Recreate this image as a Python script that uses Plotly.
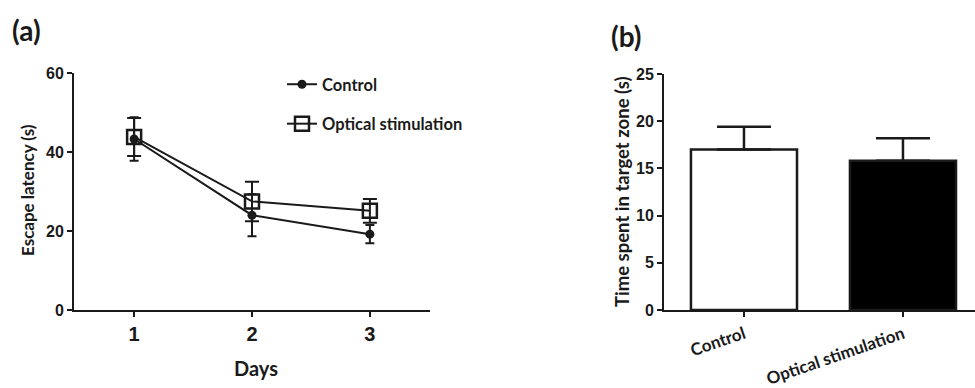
import plotly.graph_objects as go

# Panel (a): escape latency across training days
days = [1, 2, 3]
control_latency = [43.3, 24.0, 19.2]
control_err = [5.5, 5.3, 2.3]
optical_latency = [43.8, 27.5, 25.1]
optical_err = [4.8, 5.0, 3.0]

# Panel (b): time spent in the target zone
groups = ["Control", "Optical stimulation"]
zone_time = [17.0, 15.8]
zone_err = [2.4, 2.4]

INK = "#1a1a1a"
NUM_FONT = "Liberation Sans"
TXT_FONT = "Lato"
W, H = 975, 388

fig = go.Figure()

fig.add_trace(go.Scatter(
    x=days, y=control_latency, name="Control", mode="lines+markers",
    line=dict(color=INK, width=2),
    marker=dict(symbol="circle", size=9, color=INK),
    error_y=dict(type="data", array=control_err, color=INK, thickness=2, width=4.5),
    legendgroup="c", xaxis="x", yaxis="y",
))
fig.add_trace(go.Scatter(
    x=days, y=optical_latency, name="Optical stimulation", mode="lines+markers",
    line=dict(color=INK, width=2),
    marker=dict(symbol="square-open", size=14, color=INK, line=dict(width=2.5, color=INK)),
    error_y=dict(type="data", array=optical_err, color=INK, thickness=2, width=7),
    legendgroup="o", xaxis="x", yaxis="y",
))

fig.add_trace(go.Bar(
    x=[0, 1], y=zone_time, width=0.667,
    marker=dict(color=["white", "black"], line=dict(color=INK, width=2.5)),
    error_y=dict(type="data", symmetric=False, array=zone_err, arrayminus=[0, 0],
                 color=INK, thickness=2.5, width=27),
    showlegend=False, xaxis="x2", yaxis="y2",
))

axis_common = dict(
    showline=True, linecolor=INK, linewidth=2, ticks="outside", ticklen=5,
    tickwidth=2, tickcolor=INK, showgrid=False, zeroline=False, automargin=False,
)

fig.update_layout(
    template="none",
    width=W, height=H, margin=dict(l=0, r=0, t=0, b=0, autoexpand=False),
    plot_bgcolor="white", paper_bgcolor="white",
    showlegend=True,
    legend=dict(x=282 / W, y=1 - 67 / H, xanchor="left", yanchor="top",
                font=dict(family=TXT_FONT, size=16.5, color=INK, weight="bold"),
                bgcolor="rgba(0,0,0,0)", tracegroupgap=15, traceorder="grouped"),
    xaxis=dict(domain=[74 / W, 430 / W], range=[0.49, 3.51], tickvals=days,
               ticktext=[str(d) for d in days],
               tickfont=dict(family=NUM_FONT, size=20, color=INK, weight="bold"),
               anchor="y", **axis_common),
    yaxis=dict(domain=[1 - 310 / H, 1 - 73 / H], range=[0, 60], tickvals=[0, 20, 40, 60],
               tickfont=dict(family=NUM_FONT, size=16, color=INK, weight="bold"),
               anchor="x", **axis_common),
    xaxis2=dict(domain=[664 / W, 1.0], range=[-0.503, 1.453], tickvals=[0, 1],
                ticktext=groups, tickangle=-19, ticklabelstandoff=1,
                tickfont=dict(family=TXT_FONT, size=17, color=INK, weight="bold"),
                anchor="y2", **axis_common),
    yaxis2=dict(domain=[1 - 310 / H, 1 - 74 / H], range=[0, 25], tickvals=[0, 5, 10, 15, 20, 25],
                tickfont=dict(family=NUM_FONT, size=16, color=INK, weight="bold"),
                anchor="x2", **axis_common),
)

fig.add_annotation(text="Escape latency (s)", x=27 / W, y=1 - 190 / H, xref="paper", yref="paper",
                   textangle=-90, showarrow=False,
                   font=dict(family=TXT_FONT, size=17, color=INK, weight="bold"),
                   xanchor="center", yanchor="middle")
fig.add_annotation(text="Days", x=256 / W, y=1 - 368 / H, xref="paper", yref="paper",
                   showarrow=False, font=dict(family=TXT_FONT, size=20, color=INK, weight="bold"),
                   xanchor="center", yanchor="middle")
fig.add_annotation(text="Time spent in target zone (s)", x=622 / W, y=1 - 192 / H,
                   xref="paper", yref="paper", textangle=-90, showarrow=False,
                   font=dict(family=TXT_FONT, size=18.5, color=INK, weight="bold"),
                   xanchor="center", yanchor="middle")
panel_font = dict(family=TXT_FONT, size=28, color=INK, weight="bold")
fig.add_annotation(text="(a)", x=26 / W, y=1 - 30 / H, xref="paper", yref="paper",
                   showarrow=False, font=panel_font, xanchor="center", yanchor="middle")
fig.add_annotation(text="(b)", x=626 / W, y=1 - 36 / H, xref="paper", yref="paper",
                   showarrow=False, font=panel_font, xanchor="center", yanchor="middle")

fig.write_html("out.html")
